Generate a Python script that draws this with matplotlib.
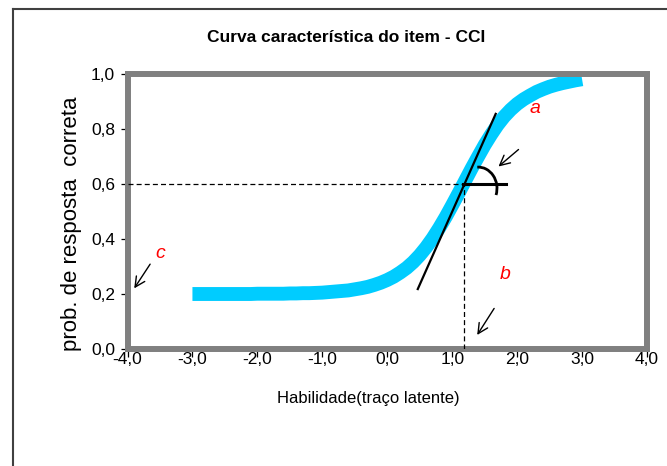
import matplotlib
matplotlib.use("Agg")
import matplotlib.pyplot as plt
from matplotlib.patches import Arc
from matplotlib.lines import Line2D

plt.rcParams['font.family'] = ['Liberation Sans', 'DejaVu Sans']

# ---- data ----
ability = [-3.0, -2.9, -2.8, -2.7, -2.6, -2.5, -2.4, -2.3, -2.2, -2.1,
           -2.0, -1.9, -1.8, -1.7, -1.6, -1.5, -1.4, -1.3, -1.2, -1.1,
           -1.0, -0.9, -0.8, -0.7, -0.6, -0.5, -0.4, -0.3, -0.2, -0.1,
           0.0, 0.1, 0.2, 0.3, 0.4, 0.5, 0.6, 0.7, 0.8, 0.9,
           1.0, 1.1, 1.2, 1.3, 1.4, 1.5, 1.6, 1.7, 1.8, 1.9,
           2.0, 2.1, 2.2, 2.3, 2.4, 2.5, 2.6, 2.7, 2.8, 2.9, 3.0]
prob = [0.200, 0.200, 0.200, 0.200, 0.200, 0.200, 0.200, 0.200, 0.200, 0.200,
        0.201, 0.201, 0.201, 0.201, 0.201, 0.202, 0.202, 0.203, 0.203, 0.204,
        0.205, 0.207, 0.209, 0.211, 0.213, 0.217, 0.221, 0.226, 0.233, 0.241,
        0.251, 0.263, 0.278, 0.295, 0.316, 0.341, 0.370, 0.403, 0.440, 0.480,
        0.523, 0.567, 0.612, 0.657, 0.700, 0.742, 0.780, 0.815, 0.845, 0.870,
        0.891, 0.908, 0.922, 0.935, 0.945, 0.954, 0.961, 0.967, 0.972, 0.977, 0.981]

b_param = 1.18
p_at_b = 0.6
tangent_x = [0.47, 1.67]
tangent_y = [0.218, 0.855]
horiz_x = [1.17, 1.83]

xticks = [-4, -3, -2, -1, 0, 1, 2, 3, 4]
xticklabels = ['-4,0', '-3,0', '-2,0', '-1,0', '0,0', '1,0', '2,0', '3,0', '4,0']
yticks = [0.0, 0.2, 0.4, 0.6, 0.8, 1.0]
yticklabels = ['0,0', '0,2', '0,4', '0,6', '0,8', '1,0']

W, H = 667, 466
fig = plt.figure(figsize=(W / 100, H / 100), dpi=100)
ax = fig.add_axes([127.5 / W, 1 - 349 / H, 519.5 / W, 275 / H])

ax.set_xlim(-4, 4)
ax.set_ylim(0, 1)

# curve
ax.plot(ability, prob, color='#00CCFF', linewidth=10, solid_capstyle='butt',
        solid_joinstyle='miter', zorder=2)

# dashed guide lines
ax.plot([-4, b_param], [p_at_b, p_at_b], color='black', lw=0.9,
        dashes=(4, 2.5), zorder=3)
ax.plot([b_param, b_param], [0, p_at_b], color='black', lw=0.9,
        dashes=(4, 2.5), zorder=3)

# tangent and horizontal reference
ax.plot(tangent_x, tangent_y, color='black', lw=1.6, zorder=4)
ax.plot(horiz_x, [p_at_b, p_at_b], color='black', lw=2.2, zorder=4)

# angle arc
arc = Arc((1.40, 0.584), 0.58, 0.155, theta1=-5, theta2=100, color='black',
          lw=2.0, zorder=4)
ax.add_patch(arc)

# arrows
arrow_kw = dict(arrowstyle='->', color='black', lw=1.0, mutation_scale=18)
ax.annotate('', xy=(1.68, 0.657), xytext=(2.054, 0.732), arrowprops=arrow_kw)
ax.annotate('', xy=(-3.92, 0.212), xytext=(-3.628, 0.317), arrowprops=arrow_kw,
            annotation_clip=False)
ax.annotate('', xy=(1.362, 0.0425), xytext=(1.669, 0.156), arrowprops=arrow_kw)

# red letters
letter_kw = dict(color='red', fontsize=14, style='italic', ha='center', va='center')
ax.text(2.269, 0.874, 'a', **letter_kw)
ax.text(-3.5, 0.348, 'c', **letter_kw)
ax.text(1.818, 0.272, 'b', **letter_kw)

# spines
for s in ax.spines.values():
    s.set_color('#808080')
    s.set_linewidth(4.3)

ax.set_xticks(xticks)
ax.set_xticklabels(xticklabels)
ax.set_yticks(yticks)
ax.set_yticklabels(yticklabels)
ax.tick_params(axis='y', direction='out', length=5, width=0.9, color='black',
               labelsize=12.5, pad=4)
ax.tick_params(axis='x', direction='out', length=6, width=0.9, color='black',
               labelsize=12.5, pad=-3.5)

ax.set_xlabel('Habilidade(traço latente)', fontsize=12)
ax.xaxis.label.set_va('center')
ax.xaxis.set_label_coords((368 - 127.5) / 519.5, (349 - 398) / 275)

ax.set_ylabel('prob. de resposta  correta', fontsize=16)
ax.yaxis.label.set_va('center')
ax.yaxis.set_label_coords((72 - 127.5) / 519.5, (349 - 224) / 275)

fig.text(346 / W, 1 - 37 / H, 'Curva característica do item - CCI',
         ha='center', va='center', fontsize=12.5, fontweight='bold')

# outer frame (left and top edges visible)
fig.add_artist(Line2D([12.5 / W, 12.5 / W], [0, 1 - 9 / H], color='#404040',
                      lw=1.5, transform=fig.transFigure))
fig.add_artist(Line2D([12.5 / W, 1], [1 - 9 / H, 1 - 9 / H], color='#404040',
                      lw=1.5, transform=fig.transFigure))

fig.savefig('out.png', dpi=100)
